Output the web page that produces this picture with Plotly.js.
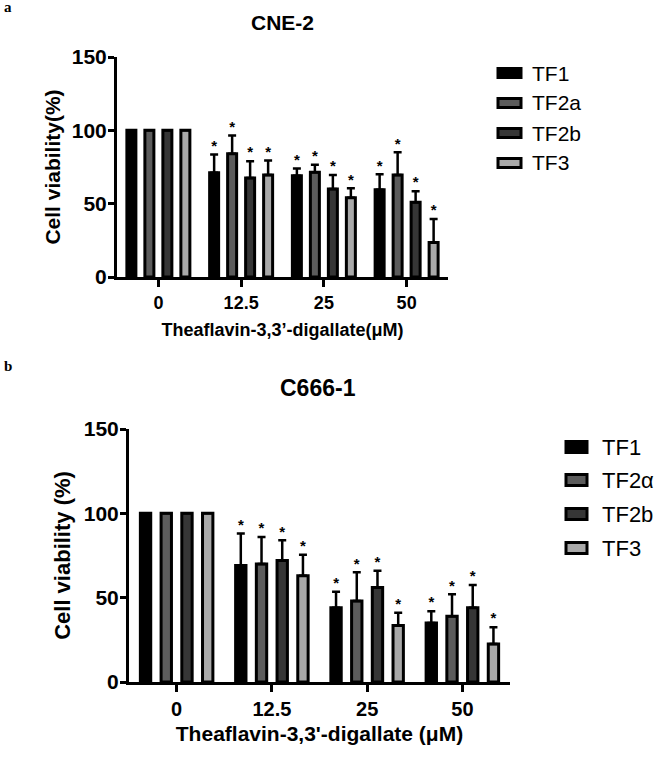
<!DOCTYPE html>
<html>
<head>
<meta charset="utf-8">
<script src="https://cdn.plot.ly/plotly-3.0.1.min.js"></script>
<style>
  html, body { margin: 0; padding: 0; background: #ffffff; }
  #chart { width: 661px; height: 757px; }
</style>
</head>
<body>
<div id="chart"></div>
<script>
// Doses of theaflavin-3,3'-digallate (µM)
const doses = ['0', '12.5', '25', '50'];

// Series names and fills
const namesCNE = ['TF1', 'TF2a', 'TF2b', 'TF3'];
const namesC666 = ['TF1', 'TF2α', 'TF2b', 'TF3'];
const fills = ['#000000', '#5c5c5c', '#363636', '#a9a9a9'];

// CNE-2 cell viability (%), mean and upper SD
const cneTF1 = [100, 71, 69, 59.5];
const cneTF2a = [100, 84, 71.5, 69.5];
const cneTF2b = [100, 67.5, 60, 51];
const cneTF3 = [100, 69.5, 54, 23.5];
const cneTF1Sd = [0, 12.5, 5, 10.5];
const cneTF2aSd = [0, 12.5, 5, 15.5];
const cneTF2bSd = [0, 11.5, 9.5, 7.5];
const cneTF3Sd = [0, 10, 6.5, 16];

// C666-1 cell viability (%), mean and upper SD
const c666TF1 = [100, 69, 44, 35];
const c666TF2a = [100, 70, 48, 39];
const c666TF2b = [100, 72, 56, 44];
const c666TF3 = [100, 63, 33.5, 22.5];
const c666TF1Sd = [0, 19, 9.5, 7];
const c666TF2aSd = [0, 16, 17, 13];
const c666TF2bSd = [0, 12, 10, 13.5];
const c666TF3Sd = [0, 12.5, 7.5, 10];

// Significance marks versus control
const sig = ['', '*', '*', '*'];

const FONT = 'Liberation Sans, Arial, sans-serif';
const W = 661, H = 757;

function panelTraces(xa, ya, names, means, sds) {
  const out = [];
  names.forEach((nm, i) => {
    out.push({
      type: 'bar', x: doses, y: means[i], name: nm,
      xaxis: xa, yaxis: ya, showlegend: false,
      marker: { color: fills[i], line: { color: '#000000', width: 3 } },
      error_y: {
        type: 'data', symmetric: false, array: sds[i],
        arrayminus: sds[i].map(() => 0),
        color: '#000000', thickness: 2.5, width: 4
      },
      hoverinfo: 'skip'
    });
  });
  names.forEach((nm, i) => {
    out.push({
      type: 'scatter', mode: 'text', x: doses,
      y: means[i].map((v, k) => v + sds[i][k]),
      text: sig, textposition: 'top center',
      textfont: { family: FONT, size: 15, color: '#000000', weight: 'bold' },
      xaxis: xa, yaxis: ya, showlegend: false, hoverinfo: 'skip'
    });
  });
  return out;
}

const data = [].concat(
  panelTraces('x', 'y', namesCNE,
    [cneTF1, cneTF2a, cneTF2b, cneTF3],
    [cneTF1Sd, cneTF2aSd, cneTF2bSd, cneTF3Sd]),
  panelTraces('x2', 'y2', namesC666,
    [c666TF1, c666TF2a, c666TF2b, c666TF3],
    [c666TF1Sd, c666TF2aSd, c666TF2bSd, c666TF3Sd])
);

function xAxis(domain, anchor, title, tickSize, titleSize, standoff) {
  return {
    domain: domain, anchor: anchor, type: 'category',
    categoryorder: 'array', categoryarray: doses,
    showline: true, linewidth: 3, linecolor: '#000000',
    ticks: 'outside', ticklen: 7, tickwidth: 3, tickcolor: '#000000',
    tickfont: { family: FONT, size: tickSize, color: '#000000', weight: 'bold' },
    title: { text: title, font: { family: FONT, size: titleSize, color: '#000000', weight: 'bold' }, standoff: standoff },
    showgrid: false, zeroline: false, fixedrange: true
  };
}

function yAxis(domain, anchor, title, tickSize, titleSize, standoff) {
  return {
    domain: domain, anchor: anchor, range: [0, 150],
    tickvals: [0, 50, 100, 150],
    showline: true, linewidth: 3, linecolor: '#000000',
    ticks: 'outside', ticklen: 6, tickwidth: 3, tickcolor: '#000000',
    ticklabelstandoff: -3,
    tickfont: { family: FONT, size: tickSize, color: '#000000', weight: 'bold' },
    title: { text: title, font: { family: FONT, size: titleSize, color: '#000000', weight: 'bold' }, standoff: standoff },
    showgrid: false, zeroline: false, fixedrange: true
  };
}

// Hand-built legend: wide outlined swatches with labels beside them
function legendBlock(names, left, swW, swH, rowTops, textX, textSize) {
  const shapes = [], notes = [];
  names.forEach((nm, i) => {
    const cy = rowTops[i];
    shapes.push({
      type: 'rect', xref: 'paper', yref: 'paper',
      x0: left / W, x1: (left + swW) / W,
      y0: 1 - (cy - swH / 2) / H, y1: 1 - (cy + swH / 2) / H,
      fillcolor: fills[i], line: { color: '#000000', width: 3 }
    });
    notes.push({
      text: nm, xref: 'paper', yref: 'paper', x: textX / W, y: 1 - cy / H,
      xanchor: 'left', yanchor: 'middle', showarrow: false,
      font: { family: FONT, size: textSize, color: '#000000' }
    });
  });
  return { shapes, notes };
}

const legA = legendBlock(namesCNE, 498, 23, 9, [73, 103, 133, 163], 530, 21);
const legB = legendBlock(namesC666, 566, 21, 11, [447, 480, 514, 548], 600, 22);

const layout = {
  width: W, height: H,
  margin: { l: 0, r: 0, t: 0, b: 0 },
  paper_bgcolor: '#ffffff', plot_bgcolor: '#ffffff',
  barmode: 'group', bargap: 0.13, bargroupgap: 0.5,
  scattermode: 'group', scattergap: 0.13,
  showlegend: false,
  font: { family: FONT, color: '#000000' },
  xaxis: xAxis([117 / W, 448 / W], 'y', "Theaflavin-3,3’-digallate(μM)", 18, 18, 12),
  yaxis: yAxis([480 / H, 700 / H], 'x', 'Cell viability(%)', 21, 21, 6),
  xaxis2: xAxis([129 / W, 510 / W], 'y2', "Theaflavin-3,3'-digallate (μM)", 20, 21, 8),
  yaxis2: yAxis([75 / H, 328 / H], 'x2', 'Cell viability (%)', 21, 22, 8),
  shapes: legA.shapes.concat(legB.shapes),
  annotations: [
    { text: 'CNE-2', xref: 'paper', yref: 'paper', x: 282 / W, y: 1 - 23 / H,
      xanchor: 'center', yanchor: 'middle', showarrow: false,
      font: { family: FONT, size: 21, color: '#000000', weight: 'bold' } },
    { text: 'C666-1', xref: 'paper', yref: 'paper', x: 318 / W, y: 1 - 388 / H,
      xanchor: 'center', yanchor: 'middle', showarrow: false,
      font: { family: FONT, size: 23, color: '#000000', weight: 'bold' } },
    { text: 'a', xref: 'paper', yref: 'paper', x: 2 / W, y: 1 - 7 / H,
      xanchor: 'left', yanchor: 'middle', showarrow: false,
      font: { family: 'Liberation Serif, DejaVu Serif, serif', size: 15, color: '#000000', weight: 'bold' } },
    { text: 'b', xref: 'paper', yref: 'paper', x: 2 / W, y: 1 - 366 / H,
      xanchor: 'left', yanchor: 'middle', showarrow: false,
      font: { family: 'Liberation Serif, DejaVu Serif, serif', size: 15, color: '#000000', weight: 'bold' } }
  ].concat(legA.notes, legB.notes)
};

Plotly.newPlot('chart', data, layout, { displayModeBar: false, staticPlot: true });
</script>
</body>
</html>
